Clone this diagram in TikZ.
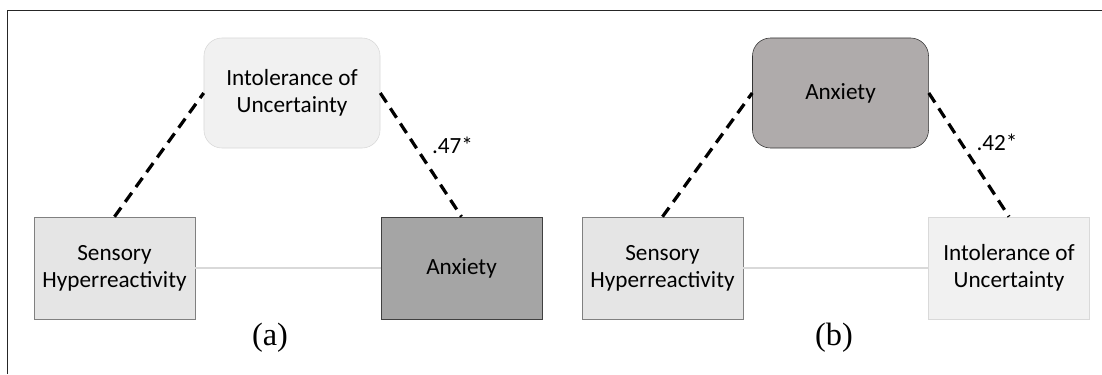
\documentclass[tikz,border=0pt]{standalone}
\usepackage{fontspec}
\setmainfont{Carlito}
\newfontfamily\capfont{Liberation Serif}

\definecolor{boxlight}{HTML}{E5E5E5}
\definecolor{boxpale}{HTML}{F1F1F1}
\definecolor{boxdark}{HTML}{A5A5A5}
\definecolor{boxmid}{HTML}{AFABAB}
\definecolor{linkgray}{HTML}{D9D9D9}

\tikzset{
	var/.style={draw, minimum width=4.02cm, minimum height=2.55cm, inner sep=0pt,
		align=center, font=\fontsize{16.5pt}{19pt}\selectfont},
	medvar/.style={var, rounded corners=0.45cm, minimum width=4.4cm, minimum height=2.75cm},
	path/.style={line width=2.3pt, dash pattern=on 8pt off 5pt},
	direct/.style={line width=2pt, draw=linkgray},
	coef/.style={font=\fontsize{16.5pt}{19pt}\selectfont, inner sep=0pt},
	panel/.style={font=\capfont\fontsize{23pt}{24pt}\selectfont}
}

\begin{document}
\begin{tikzpicture}[x=0.025cm, y=-0.025cm]
		\useasboundingbox (0,0) rectangle (1102,374);
		%frame
		\draw[line width=1.1pt, draw=black!85] (7.5,374) -- (7.5,10.5) -- (1102,10.5);
		
		%Model (a)
		\node[medvar, fill=boxpale, draw=linkgray] (iuA) at (292,93) {Intolerance of\\Uncertainty};
		\node[var, fill=boxlight, draw=black!50] (sensA) at (114.5,268) {Sensory\\Hyperreactivity};
		\node[var, fill=boxdark, draw=black!75] (anxA) at (461.5,268) {Anxiety};
		
		\draw[direct] (sensA.east) -- (anxA.west);
		\draw[path] (sensA.north) -- (iuA.west);
		\draw[path] (iuA.east) -- (anxA.north) node[coef, pos=0.42, right=0.4cm] (bA) {.47*};
		\node[panel] (capA) at (270,338) {(a)};
		
		%Model (b)
		\def\x{548}
		\node[medvar, fill=boxmid, draw=black!80] (anxB) at (292.5+\x,93) {Anxiety};
		\node[var, fill=boxlight, draw=black!50] (sensB) at (114.5+\x,268) {Sensory\\Hyperreactivity};
		\node[var, fill=boxpale, draw=linkgray] (iuB) at (461+\x,268) {Intolerance of\\Uncertainty};
		
		\draw[direct] (sensB.east) -- (iuB.west);
		\draw[path] (sensB.north) -- (anxB.west);
		\draw[path] (anxB.east) -- (iuB.north) node[coef, pos=0.4, right=0.35cm] (bB) {.42*};
		\node[panel] (capB) at (834,338) {(b)};
		
\end{tikzpicture}
\end{document}
